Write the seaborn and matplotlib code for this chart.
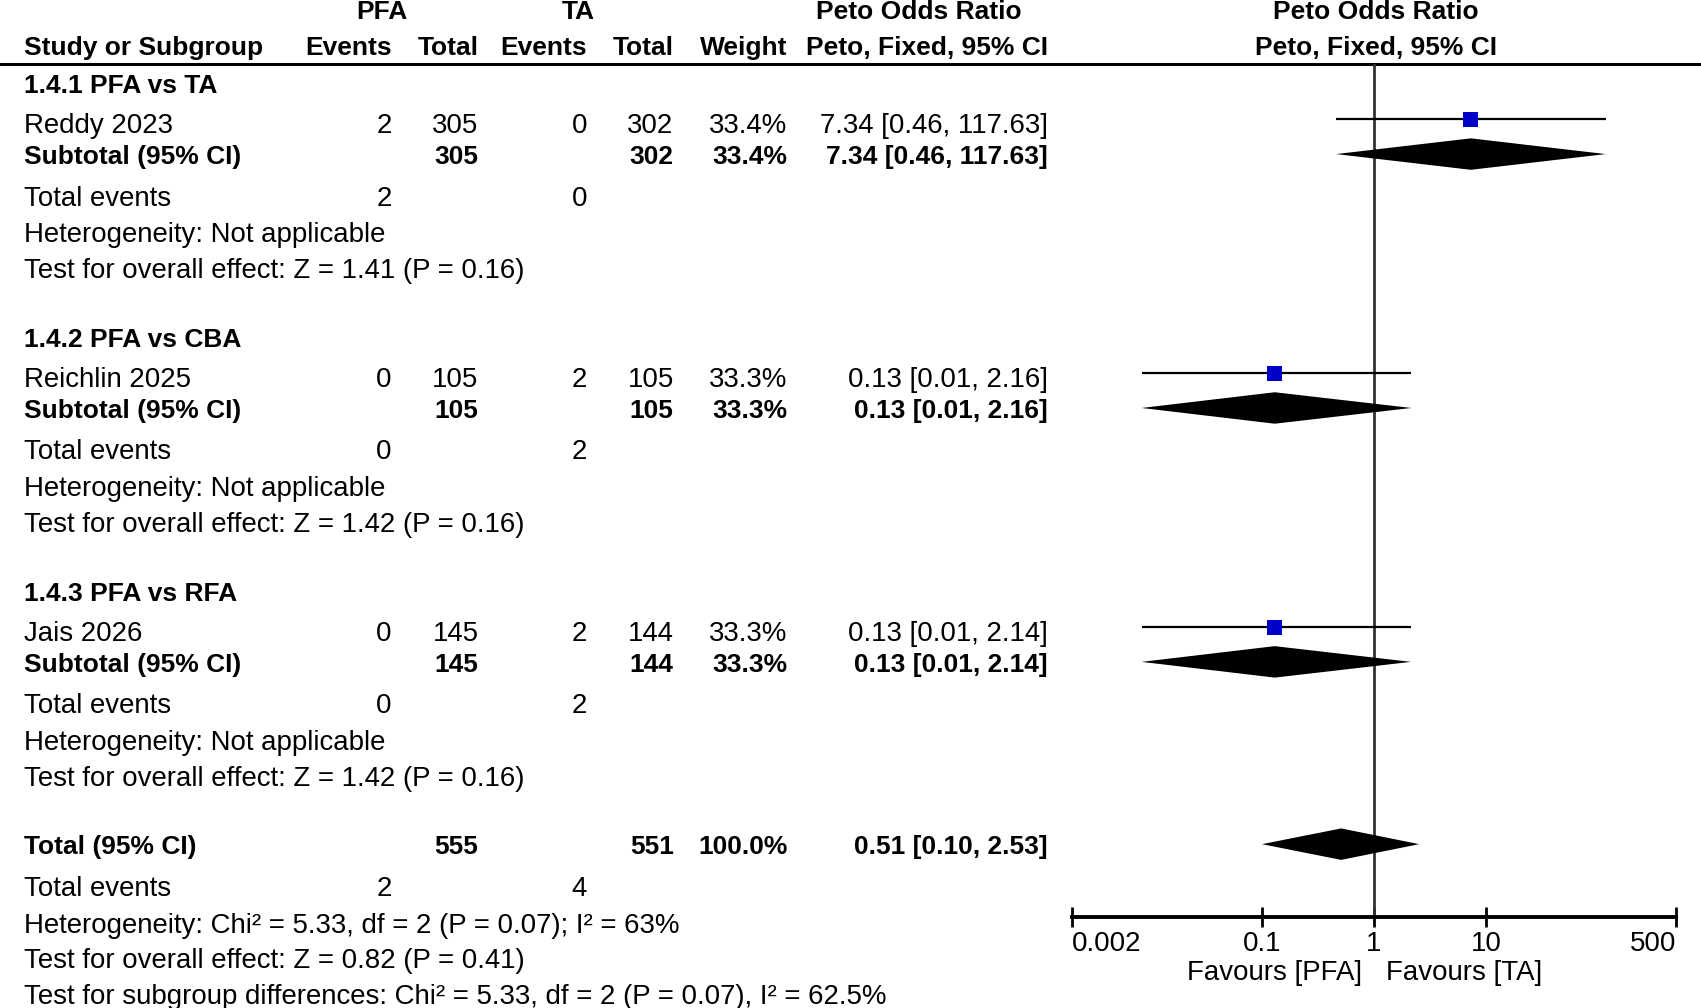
"""
Forest plot (Peto odds ratio) — PFA vs TA, three subgroups.
"""
import matplotlib
matplotlib.use("Agg")
import matplotlib.pyplot as plt
from matplotlib.ticker import NullLocator
import numpy as np
import seaborn as sns

# ---------------------------------------------------------------------------
# Data
# ---------------------------------------------------------------------------
groups = ["1.4.1 PFA vs TA", "1.4.2 PFA vs CBA", "1.4.3 PFA vs RFA"]
studies = ["Reddy 2023", "Reichlin 2025", "Jais 2026"]
pfa_events = [2, 0, 0]
pfa_total = [305, 105, 145]
ta_events = [0, 2, 2]
ta_total = [302, 105, 144]
weights = [33.4, 33.3, 33.3]
odds = [7.34, 0.13, 0.13]
ci_low = [0.46, 0.0084, 0.0084]   # shown rounded as 0.01
ci_high = [117.63, 2.16, 2.14]
z_values = [1.41, 1.42, 1.42]
p_values = [0.16, 0.16, 0.16]

total_or = [0.51, 0.10, 2.53]
total_lines = [
    "Heterogeneity: Chi² = 5.33, df = 2 (P = 0.07); I² = 63%",
    "Test for overall effect: Z = 0.82 (P = 0.41)",
    "Test for subgroup differences: Chi² = 5.33, df = 2 (P = 0.07), I² = 62.5%",
]
tick_values = [0.002, 0.1, 1, 10, 500]
tick_labels = ["0.002", "0.1", "1", "10", "500"]

# ---------------------------------------------------------------------------
# Layout (reference grid 1568 x 929, saved at 1701 x 1008)
# ---------------------------------------------------------------------------
W, H = 1568, 929
FS = 19.9        # regular text
FS_B = 19        # bold text
FONT = ["Liberation Sans", "DejaVu Sans"]
COL_X = [361, 441, 541, 621, 726, 966]   # right edges of table columns
AX_L, AX_R = 988, 1545
AX_TOP, AX_BOT = 59, 845
GROUP_STEP = 234
DY = 2           # text baseline nudge

sns.set_theme(style="white")
plt.rcParams["font.family"] = FONT

fig = plt.figure(figsize=(17.01, 10.08), dpi=100, facecolor="white")
tax = fig.add_axes([0, 0, 1, 1])
tax.set_xlim(0, W)
tax.set_ylim(H, 0)
tax.axis("off")


def put(x, y, s, ha="left", bold=False):
    tax.text(x, y + DY, s, ha=ha, va="center", color="black",
             fontsize=FS_B if bold else FS,
             fontweight="bold" if bold else "normal")


# headers
put(352, 9, "PFA", ha="center", bold=True)
put(533, 9, "TA", ha="center", bold=True)
put(847, 9, "Peto Odds Ratio", ha="center", bold=True)
put(1268, 9, "Peto Odds Ratio", ha="center", bold=True)
put(22, 42, "Study or Subgroup", bold=True)
for x, s in zip(COL_X, ["Events", "Total", "Events", "Total", "Weight",
                        "Peto, Fixed, 95% CI"]):
    put(x, 42, s, ha="right", bold=True)
put(1268, 42, "Peto, Fixed, 95% CI", ha="center", bold=True)
tax.plot([0, W], [59, 59], color="black", lw=2.2)

study_y = []
sub_y = []
for i in range(len(groups)):
    y0 = 77 + GROUP_STEP * i
    ci_txt = f"{odds[i]:.2f} [{ci_low[i]:.2f}, {ci_high[i]:.2f}]"
    put(22, y0, groups[i], bold=True)
    # study row
    ys = y0 + 37
    put(22, ys, studies[i])
    for x, s in zip(COL_X, [pfa_events[i], pfa_total[i], ta_events[i],
                            ta_total[i], f"{weights[i]:.1f}%", ci_txt]):
        put(x, ys, str(s), ha="right")
    # subtotal row
    yt = y0 + 66
    put(22, yt, "Subtotal (95% CI)", bold=True)
    for x, s in zip(COL_X[1:], [pfa_total[i], "", ta_total[i],
                                f"{weights[i]:.1f}%", ci_txt]):
        put(x, yt, str(s), ha="right", bold=True)
    put(22, y0 + 104, "Total events")
    put(COL_X[0], y0 + 104, str(pfa_events[i]), ha="right")
    put(COL_X[2], y0 + 104, str(ta_events[i]), ha="right")
    put(22, y0 + 138, "Heterogeneity: Not applicable")
    put(22, y0 + 171,
        f"Test for overall effect: Z = {z_values[i]:.2f} (P = {p_values[i]:.2f})")
    study_y.append(ys - 4)
    sub_y.append(yt - 1)

# overall
yT = 779
put(22, yT, "Total (95% CI)", bold=True)
put(COL_X[1], yT, str(sum(pfa_total)), ha="right", bold=True)
put(COL_X[3], yT, str(sum(ta_total)), ha="right", bold=True)
put(COL_X[4], yT, f"{sum(weights):.1f}%", ha="right", bold=True)
put(COL_X[5], yT, f"{total_or[0]:.2f} [{total_or[1]:.2f}, {total_or[2]:.2f}]",
    ha="right", bold=True)
put(22, 817, "Total events")
put(COL_X[0], 817, str(sum(pfa_events)), ha="right")
put(COL_X[2], 817, str(sum(ta_events)), ha="right")
for k, s in enumerate(total_lines):
    put(22, 851 + 33 * k, s)

# ---------------------------------------------------------------------------
# Forest panel
# ---------------------------------------------------------------------------
fax = fig.add_axes([AX_L / W, 1 - AX_BOT / H, (AX_R - AX_L) / W,
                    (AX_BOT - AX_TOP) / H])
fax.patch.set_alpha(0)
fax.set_xscale("log")
fax.set_xlim(tick_values[0], tick_values[-1])
fax.set_ylim(AX_BOT, AX_TOP)
fax.axvline(1, color="#333333", lw=2, zorder=1)

fax.hlines(study_y, ci_low, ci_high, color="black", lw=1.6, zorder=2)
sns.scatterplot(x=odds, y=study_y, marker="s", s=120, color="#0000c8",
                edgecolor="none", ax=fax, zorder=3, legend=False)

half = 14.5
for est, lo, hi, y in zip(odds, ci_low, ci_high, sub_y):
    fax.fill([lo, est, hi, est], [y, y - half, y, y + half],
             color="black", lw=0, zorder=3)
fax.fill([total_or[1], total_or[0], total_or[2], total_or[0]],
         [yT - 1, yT - 1 - half, yT - 1, yT - 1 + half],
         color="black", lw=0, zorder=3)

for side in ["top", "left", "right"]:
    fax.spines[side].set_visible(False)
fax.spines["bottom"].set_linewidth(2.8)
fax.spines["bottom"].set_color("black")
fax.set_yticks([])
fax.xaxis.set_minor_locator(NullLocator())
fax.set_xticks(tick_values)
fax.set_xticklabels(tick_labels)
fax.tick_params(axis="x", direction="inout", length=15, width=2,
                colors="black", labelsize=FS, pad=3, bottom=True)
labels = fax.get_xticklabels()
labels[0].set_ha("left")
labels[-1].set_ha("right")

put(1256, 895, "Favours [PFA]", ha="right")
put(1278, 895, "Favours [TA]")

fig.savefig("out.png", dpi=100, facecolor="white")
